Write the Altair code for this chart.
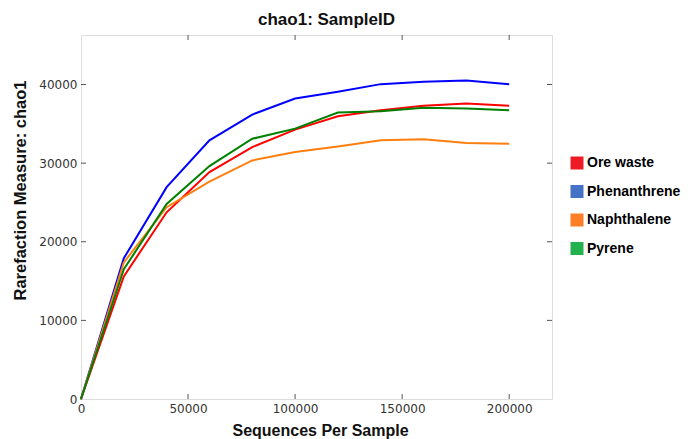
import altair as alt
import pandas as pd

depth = [0, 20000, 40000, 60000, 80000, 100000, 120000, 140000, 160000, 180000, 200000]
ore_waste = [0, 15600, 23750, 28860, 32050, 34270, 35970, 36730, 37290, 37590, 37290]
phenanthrene = [0, 17900, 26950, 32900, 36180, 38230, 39080, 40050, 40360, 40520, 40050]
naphthalene = [0, 17370, 24390, 27660, 30350, 31420, 32130, 32900, 33030, 32570, 32480]
pyrene = [0, 16500, 24800, 29630, 33100, 34390, 36440, 36600, 37040, 36950, 36730]

groups = ["Ore waste", "Phenanthrene", "Naphthalene", "Pyrene"]
line_colors = ["#ff0000", "#0000ff", "#ff7f0e", "#008000"]
legend_colors = ["#ed1c24", "#4472c4", "#ff7f27", "#22b14c"]
x_ticks = [0, 50000, 100000, 150000, 200000]
y_ticks = [0, 10000, 20000, 30000, 40000]

rows = []
for g, vals in zip(groups, [ore_waste, phenanthrene, naphthalene, pyrene]):
    for d, v in zip(depth, vals):
        rows.append({"group": g, "depth": d, "chao1": v})
df = pd.DataFrame(rows)

W, H = 471, 364
TL = 5
xscale = alt.Scale(domain=[0, 220000], nice=False, zero=False)
yscale = alt.Scale(domain=[0, 46300], nice=False, zero=False)

x_axis = alt.Axis(
    values=x_ticks, format="d", title="Sequences Per Sample",
    labelFont="DejaVu Sans", labelFontSize=12, labelColor="#333333",
    ticks=False, tickSize=0, domain=False, grid=False, labelPadding=4,
    labelFlush=False,
    titleFont="Liberation Sans", titleFontSize=16, titleFontWeight="bold",
    titleColor="#111111", titleX=239, titleY=31, titleBaseline="middle",
)
y_axis = alt.Axis(
    values=y_ticks, format="d", title="Rarefaction Measure: chao1",
    labelFont="DejaVu Sans", labelFontSize=12, labelColor="#333333",
    ticks=False, tickSize=0, domain=False, grid=False, labelPadding=4,
    labelFlush=False,
    titleFont="Liberation Sans", titleFontSize=16.5, titleFontWeight="bold",
    titleColor="#111111", titleX=-61, titleY=155, titleBaseline="middle",
    titleAlign="center",
)

lines = alt.Chart(df).mark_line(strokeWidth=2).encode(
    x=alt.X("depth:Q", scale=xscale, axis=x_axis),
    y=alt.Y("chao1:Q", scale=yscale, axis=y_axis),
    stroke=alt.Stroke("group:N", scale=alt.Scale(domain=groups, range=line_colors), legend=None),
    order=alt.Order("depth:Q"),
)

legend_layer = alt.Chart(df).transform_filter(alt.datum.depth == 0).mark_square(size=1, opacity=1).encode(
    x=alt.X("depth:Q", scale=xscale),
    y=alt.Y("chao1:Q", scale=yscale),
    fill=alt.Fill(
        "group:N",
        scale=alt.Scale(domain=groups, range=legend_colors),
        legend=alt.Legend(
            title=None, orient="none", legendX=489, legendY=121,
            symbolType="square", symbolSize=169, symbolStrokeWidth=0, symbolOpacity=1,
            labelFont="Liberation Sans", labelFontSize=14, labelFontWeight="bold",
            labelColor="#000000", rowPadding=14.5, padding=0, labelOffset=3,
            labelLimit=300,
        ),
    ),
)

xt_df = pd.DataFrame({"depth": x_ticks[1:]})
yt_df = pd.DataFrame({"chao1": y_ticks[1:]})
tick_color = "#555555"

bottom_ticks = alt.Chart(xt_df).mark_rule(color=tick_color, strokeWidth=1).encode(
    x=alt.X("depth:Q", scale=xscale), y=alt.value(H), y2=alt.value(H - TL))
top_ticks = alt.Chart(xt_df).mark_rule(color=tick_color, strokeWidth=1).encode(
    x=alt.X("depth:Q", scale=xscale), y=alt.value(0), y2=alt.value(TL))
left_ticks = alt.Chart(yt_df).mark_rule(color=tick_color, strokeWidth=1).encode(
    y=alt.Y("chao1:Q", scale=yscale), x=alt.value(0), x2=alt.value(TL))
right_ticks = alt.Chart(yt_df).mark_rule(color=tick_color, strokeWidth=1).encode(
    y=alt.Y("chao1:Q", scale=yscale), x=alt.value(W), x2=alt.value(W - TL))

chart = alt.layer(
    bottom_ticks, top_ticks, left_ticks, right_ticks, legend_layer, lines
).properties(
    width=W, height=H,
    title=alt.TitleParams(
        "chao1: SampleID", font="Liberation Sans", fontSize=17, fontWeight="bold",
        color="#111111", anchor="middle", dx=10, offset=6,
    ),
    autosize=alt.AutoSizeParams(type="none"),
    padding={"left": 73, "top": 27, "right": 132, "bottom": 40},
).configure_view(
    stroke="#333333", strokeWidth=1.2
).configure(background="white")

chart.save("out.html", embed_options={"renderer": "svg", "actions": False})
